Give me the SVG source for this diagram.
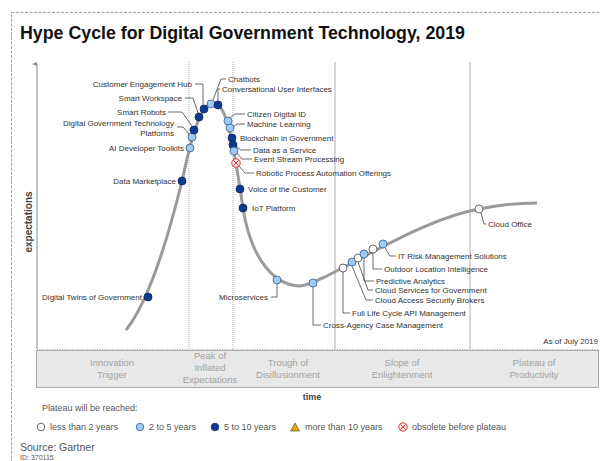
<svg xmlns="http://www.w3.org/2000/svg" width="600" height="461" viewBox="0 0 600 461">
<style>
text{font-family:"Liberation Sans",Arial,sans-serif}
.lbl{font-size:8px;fill:#333}
.end{text-anchor:end}
.ph{font-size:9.5px;fill:#a3a3a3;text-anchor:middle}
.leg{font-size:9px;fill:#555}
.ld{fill:none;stroke:#444;stroke-width:0.8}
.dk{fill:#0b3a8e;stroke:#102a5a;stroke-width:0.8}
.lt{fill:#9fcbf2;stroke:#355f93;stroke-width:0.8}
.wh{fill:#fff;stroke:#444;stroke-width:0.8}
.ob{fill:#fde8e8;stroke:#e02020;stroke-width:0.9}
.div{stroke:#999;stroke-width:0.8}
</style>
<defs>
<marker id="ah" markerWidth="6" markerHeight="6" refX="3" refY="5" orient="auto-start-reverse" markerUnits="userSpaceOnUse">
<path d="M1,5 L3,0 L5,5 Z" fill="#888"/>
</marker>
<g id="obs"><circle r="4.2" class="ob"/><path d="M-2.6,-2.6 L2.6,2.6 M2.6,-2.6 L-2.6,2.6" stroke="#e02020" stroke-width="0.9"/></g>
</defs>
<rect x="11.5" y="12.5" width="600" height="460" fill="#fff" stroke="#888" stroke-width="0.8" stroke-dasharray="3,1.5"/>
<text x="20" y="39" font-size="17.8" font-weight="bold" fill="#111">Hype Cycle for Digital Government Technology, 2019</text>

<g id="frame">
<line x1="37" y1="349" x2="37" y2="64" stroke="#888" stroke-width="1" marker-end="url(#ah)"/>
<text transform="translate(32,222) rotate(-90)" font-size="10" font-weight="bold" fill="#444" text-anchor="middle">expectations</text>
<line x1="189" y1="62" x2="189" y2="349" class="div" stroke-dasharray="1,1"/>
<line x1="233" y1="62" x2="233" y2="349" class="div" stroke-dasharray="1,1"/>
<line x1="335" y1="62" x2="335" y2="349" class="div"/>
<line x1="470" y1="62" x2="470" y2="349" class="div"/>
<line x1="37" y1="349.5" x2="600" y2="349.5" stroke="#999" stroke-width="0.8" stroke-dasharray="1,1.5"/>
<text x="598" y="344" class="lbl end" font-size="7.5">As of July 2019</text>
<rect x="36.5" y="350.5" width="562" height="37" fill="#e8e8e8" stroke="#999" stroke-width="0.8"/>
<text class="ph" x="112" y="366">Innovation</text><text class="ph" x="112" y="378">Trigger</text>
<text class="ph" x="210" y="359">Peak of</text><text class="ph" x="210" y="371">Inflated</text><text class="ph" x="210" y="383">Expectations</text>
<text class="ph" x="288" y="366">Trough of</text><text class="ph" x="288" y="378">Disillusionment</text>
<text class="ph" x="402" y="366">Slope of</text><text class="ph" x="402" y="378">Enlightenment</text>
<text class="ph" x="534" y="366">Plateau of</text><text class="ph" x="534" y="378">Productivity</text>
<text x="312" y="400" font-size="9" font-weight="bold" fill="#444" text-anchor="middle">time</text>
</g>

<path id="curve" d="M126,330 C150,300 170,230 182,181 C188,155 198,102 214,103 C226,103 233,140 243,208 C249,248 268,285 300,286 C325,284 410,222 479,209 C499,205 520,203 537,203" fill="none" stroke="#9a9a9a" stroke-width="3"/>

<g id="connectors">
<path class="ld" d="M195,84 H203 V105"/>
<path class="ld" d="M185,98 H193 L198,113"/>
<path class="ld" d="M168,112 H182 L192,126"/>
<path class="ld" d="M177,127 H183 L189,134"/>
<path class="ld" d="M226,79 H221 L213,100"/>
<path class="ld" d="M220,89 H218 V101"/>
<path class="ld" d="M245,114 H235 L230,118"/>
<path class="ld" d="M245,124 H237 L233,127"/>
<path class="ld" d="M251,150 H241 L237,147"/>
<path class="ld" d="M252,159 H242 L237,153"/>
<path class="ld" d="M254,173 H245 L239,166"/>
<path class="ld" d="M271,297 H277 V284"/>
<path class="ld" d="M313,287 V325 H321"/>
<path class="ld" d="M343,272 V313 H350"/>
<path class="ld" d="M352,266 L366,300 H373"/>
<path class="ld" d="M358,262 L368,290 H373"/>
<path class="ld" d="M364,258 V281 H374"/>
<path class="ld" d="M373,253 V269 H382"/>
<path class="ld" d="M385,248 L390,256 H396"/>
<path class="ld" d="M481,213 L484,224 H486"/>
</g>

<g id="n-digital-twins"><circle cx="148" cy="297" r="4" class="dk"/><text class="lbl end" x="142" y="300">Digital Twins of Government</text></g>
<g id="n-data-marketplace"><circle cx="182" cy="181" r="4" class="dk"/><text class="lbl end" x="176" y="184">Data Marketplace</text></g>
<g id="n-ai-dev-toolkits"><circle cx="190" cy="148" r="4" class="lt"/><text class="lbl end" x="184" y="151">AI Developer Toolkits</text></g>
<g id="n-dgtp"><circle cx="192" cy="137" r="4" class="lt"/><text class="lbl end" x="174" y="126">Digital Government Technology</text><text class="lbl end" x="174" y="136">Platforms</text></g>
<g id="n-smart-robots"><circle cx="194" cy="130" r="4" class="dk"/><text class="lbl end" x="166" y="115">Smart Robots</text></g>
<g id="n-smart-workspace"><circle cx="199" cy="117" r="4" class="dk"/><text class="lbl end" x="182" y="101">Smart Workspace</text></g>
<g id="n-ceh"><circle cx="204" cy="109" r="4" class="dk"/><text class="lbl end" x="192" y="87">Customer Engagement Hub</text></g>
<g id="n-chatbots"><circle cx="211" cy="104" r="4" class="lt"/><text class="lbl" x="228" y="82">Chatbots</text></g>
<g id="n-cui"><circle cx="218" cy="105" r="4" class="dk"/><text class="lbl" x="222" y="92">Conversational User Interfaces</text></g>
<g id="n-citizen-id"><circle cx="228" cy="121" r="4" class="lt"/><text class="lbl" x="247" y="117">Citizen Digital ID</text></g>
<g id="n-ml"><circle cx="230" cy="128" r="4" class="lt"/><text class="lbl" x="247" y="127">Machine Learning</text></g>
<g id="n-blockchain"><circle cx="232" cy="138" r="4" class="dk"/><text class="lbl" x="240" y="141">Blockchain in Government</text></g>
<g id="n-daas"><circle cx="233" cy="145" r="4" class="dk"/><text class="lbl" x="253" y="153">Data as a Service</text></g>
<g id="n-esp"><circle cx="234" cy="151" r="4" class="lt"/><text class="lbl" x="254" y="162">Event Stream Processing</text></g>
<g id="n-rpa"><use href="#obs" x="236" y="163"/><text class="lbl" x="256" y="176">Robotic Process Automation Offerings</text></g>
<g id="n-voc"><circle cx="240" cy="189" r="4" class="dk"/><text class="lbl" x="248" y="192">Voice of the Customer</text></g>
<g id="n-iot"><circle cx="243" cy="208" r="4" class="dk"/><text class="lbl" x="252" y="211">IoT Platform</text></g>
<g id="n-microservices"><circle cx="277" cy="280" r="4" class="lt"/><text class="lbl end" x="268" y="300">Microservices</text></g>
<g id="n-cross-agency"><circle cx="313" cy="283" r="4" class="lt"/><text class="lbl" x="323" y="328">Cross-Agency Case Management</text></g>
<g id="n-full-life-cycle"><circle cx="343" cy="268" r="4" class="wh"/><text class="lbl" x="352" y="316">Full Life Cycle API Management</text></g>
<g id="n-casb"><circle cx="352" cy="262" r="4" class="lt"/><text class="lbl" x="375" y="303">Cloud Access Security Brokers</text></g>
<g id="n-cloud-services"><circle cx="358" cy="258" r="4" class="wh"/><text class="lbl" x="375" y="293">Cloud Services for Government</text></g>
<g id="n-predictive"><circle cx="364" cy="254" r="4" class="lt"/><text class="lbl" x="376" y="284">Predictive Analytics</text></g>
<g id="n-outdoor"><circle cx="373" cy="249" r="4" class="wh"/><text class="lbl" x="384" y="272">Outdoor Location Intelligence</text></g>
<g id="n-it-risk"><circle cx="383" cy="244" r="4" class="lt"/><text class="lbl" x="398" y="259">IT Risk Management Solutions</text></g>
<g id="n-cloud-office"><circle cx="479" cy="209" r="4" class="wh"/><text class="lbl" x="488" y="227">Cloud Office</text></g>

<g id="legend">
<text class="leg" x="42" y="411">Plateau will be reached:</text>
<circle cx="41" cy="427" r="3.8" class="wh"/><text class="leg" x="50" y="430">less than 2 years</text>
<circle cx="140" cy="427" r="3.8" class="lt"/><text class="leg" x="149" y="430">2 to 5 years</text>
<circle cx="215" cy="427" r="3.8" class="dk"/><text class="leg" x="224" y="430">5 to 10 years</text>
<path d="M295,423 L299.5,431 L290.5,431 Z" fill="#f0a000" stroke="#555" stroke-width="0.7"/><text class="leg" x="305" y="430">more than 10 years</text>
<use href="#obs" x="403" y="427"/><text class="leg" x="412" y="430">obsolete before plateau</text>
<text x="20" y="451" font-size="10.5" fill="#555">Source: Gartner</text>
<text x="20" y="460" font-size="7" fill="#555">ID: 370115</text>
</g>
</svg>
